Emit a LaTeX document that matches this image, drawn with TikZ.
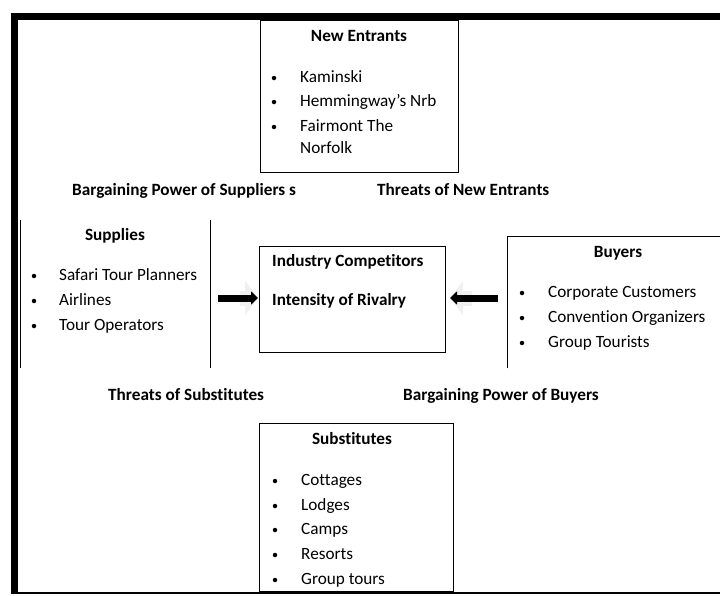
\documentclass[tikz,border=0pt]{standalone}
\usepackage{fontspec}
\setmainfont{Carlito}[Ligatures=NoCommon]
\usepackage{tikz}
\usetikzlibrary{positioning,arrows.meta}
\definecolor{glow}{gray}{0.94}

\begin{document}
\begin{tikzpicture}[x=1pt,y=-1pt]
\tikzstyle{box}=[rectangle, draw=black, line width=1pt, anchor=north west, inner sep=0]
\tikzstyle{open}=[rectangle, anchor=north west, inner sep=0]
\tikzstyle{side}=[line width=1pt]
\tikzstyle{title}=[font=\fontsize{17.2}{20}\selectfont\bfseries, inner sep=0, text height=11pt, text depth=3pt]
\tikzstyle{item}=[font=\fontsize{17.2}{20}\selectfont, anchor=west, inner sep=0, text height=11pt, text depth=3pt]
\tikzstyle{force}=[title, anchor=west]
\tikzstyle{dot}=[circle, fill=black, inner sep=0, minimum size=4.5pt]
\tikzstyle{connect}=[-{Triangle[length=7pt,width=13pt]}, line width=7pt]
\tikzstyle{shade}=[-{Triangle[length=13pt,width=34pt]}, line width=15pt, glow]
\useasboundingbox (0,0) rectangle (720,595);
% frame
\draw[line width=7pt] (720,16.5) -- (14.5,16.5) -- (14.5,593);
\draw[line width=1.2pt] (11,593) -- (720,593);

	% boxes
	\node[box, minimum width=198, minimum height=152] (entrants) at (260,20) {};
	\node[open, minimum width=190, minimum height=148] (supplies) at (20,220) {};
	\node[box, minimum width=186, minimum height=106] (comp) at (259,246) {};
	\node[open, minimum width=213, minimum height=132] (buyers) at (507,236) {};
	\node[box, minimum width=194, minimum height=168] (subst) at (259,423) {};
	\draw[side] (supplies.north west) -- (supplies.south west);
	\draw[side] (supplies.north east) -- (supplies.south east);
	\draw[side] (buyers.south west) -- (buyers.north west) -- (buyers.north east);

	% new entrants
	\node[title] (t_ent) at (359,37) {New Entrants};
	\node[dot] at (274,78) {};
	\node[item] (e_1) at (300,78) {Kaminski};
	\node[dot] at (274,102) {};
	\node[item] (e_2) at (300,102) {Hemmingway’s Nrb};
	\node[dot] at (274,127) {};
	\node[item] (e_3) at (300,127) {Fairmont The};
	\node[item] (e_4) at (300,149) {Norfolk};

	% forces
	\node[force] (f_sup) at (72,191) {Bargaining Power of Suppliers s};
	\node[force] (f_new) at (377,191) {Threats of New Entrants};
	\node[force] (f_sub) at (108,396) {Threats of Substitutes};
	\node[force] (f_buy) at (403,396) {Bargaining Power of Buyers};

	% supplies
	\node[title] (t_sup) at (115,236) {Supplies};
	\node[dot] at (34,276) {};
	\node[item] (s_1) at (59,276) {Safari Tour Planners};
	\node[dot] at (34,301) {};
	\node[item] (s_2) at (59,301) {Airlines};
	\node[dot] at (34,326) {};
	\node[item] (s_3) at (59,326) {Tour Operators};

	% competitors
	\node[force] (t_comp) at (272,262) {Industry Competitors};
	\node[force] (rivalry) at (272,301) {Intensity of Rivalry};

	% buyers
	\node[title] (t_buy) at (618,253) {Buyers};
	\node[dot] at (522,293) {};
	\node[item] (b_1) at (548,293) {Corporate Customers};
	\node[dot] at (522,318) {};
	\node[item] (b_2) at (548,318) {Convention Organizers};
	\node[dot] at (522,343) {};
	\node[item] (b_3) at (548,343) {Group Tourists};

	% substitutes
	\node[title] (t_subst) at (352,440) {Substitutes};
	\node[dot] at (275,481) {};
	\node[item] (u_1) at (301,481) {Cottages};
	\node[dot] at (275,506) {};
	\node[item] (u_2) at (301,506) {Lodges};
	\node[dot] at (275,530) {};
	\node[item] (u_3) at (301,530) {Camps};
	\node[dot] at (275,555) {};
	\node[item] (u_4) at (301,555) {Resorts};
	\node[dot] at (275,580) {};
	\node[item] (u_5) at (301,580) {Group tours};

	% arrows
	\coordinate (a_l) at ([xshift=8pt]supplies.east |- 0,298);
	\coordinate (a_r) at ([xshift=-9pt]buyers.west |- 0,298);
	\draw[shade, shorten <=22pt, shorten >=1pt] (a_l) -- (comp.west |- a_l);
	\draw[shade, shorten <=26pt, shorten >=4pt] (a_r) -- (comp.east |- a_r);
	\draw[connect, shorten >=1pt] (a_l) -- (comp.west |- a_l);
	\draw[connect, shorten >=4pt] (a_r) -- (comp.east |- a_r);
\end{tikzpicture}
\end{document}
